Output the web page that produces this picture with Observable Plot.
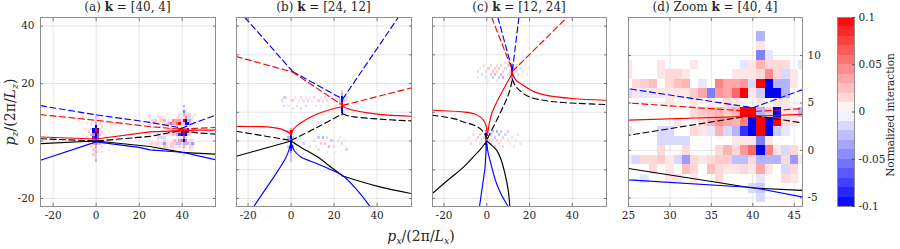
<!DOCTYPE html>
<html><head><meta charset="utf-8">
<script src="https://cdn.jsdelivr.net/npm/d3@7"></script>
<script src="https://cdn.jsdelivr.net/npm/@observablehq/plot@0.6"></script>
<style>
body{margin:0;background:#fff;}
#root{position:relative;width:900px;height:249px;overflow:hidden;font-family:"DejaVu Serif",serif;color:#262626;}
#root svg{position:absolute;top:0;overflow:visible;}
.title{position:absolute;top:0;font-size:12px;line-height:15px;white-space:nowrap;transform:translateX(-50%);}
.lab{position:absolute;font-size:14px;white-space:nowrap;line-height:16px;}
.lab sub{font-size:9.5px;vertical-align:-3px;line-height:0;}
</style></head>
<body><div id="root"></div>
<script>
// ---------- data: k = [40, 4] ----------
const aBlueDash  = [[[-25.9,12.3],[0,9.1],[25,6.5],[40,4.5],[46,6.4],[55.5,9.0]]];
const aRedDash   = [[[-25.9,9.2],[0,7.2],[25,5.0],[40,4.1],[46,4.4],[55.5,4.7]]];
const aRedSolid  = [[[-25.9,1.4],[0,0.7],[25,3.2],[40,3.6],[46,3.8],[55.5,3.8]]];
const aBlackDash = [[[-25.9,0.8],[0,0],[25,1.6],[40,3.7],[46,2.9],[55.5,2.4]]];
const aBlack     = [[[-25.9,-0.9],[0,0],[25,-1.9],[40,-3.95],[46,-4.2],[55.5,-4.6]]];
const aBlue      = [[[-25.9,-6.7],[0,-0.3],[20,-2.2],[25,-3.1],[40,-3.9],[46,-4.9],[55.5,-6.5]]];

// ---------- data: k = [24, 12] ----------
const bBlueDash  = [[[-21.5,43],[0.7,24.2]],[[0.7,24.2],[24,14.6]],[[24,14.6],[49.8,43]]];
const bRedDash   = [[[-25.5,29.4],[0.7,24.0]],[[0.7,24.0],[24,12.4]],[[24,12.4],[56,18.5]]];
const bRedSolid  = [
  [[-25.5,5.1],[-15,5.0],[-10.9,4.9],[-6,4.4],[-3.1,3.7],[-0.8,2.8],[0,2]],
  [[0,2],[0.8,3.8],[2.5,5.2],[4.6,6.3],[8,7.9],[12.4,9.5],[18,10.9],[24,12]],
  [[24,12],[28,10.9],[35.6,9.8],[45,9.0],[56,8.6]]];
const bBlackDash = [
  [[-25.5,3.4],[0,0.2]],
  [[0,0.2],[12.4,4.9],[24,9.5]],
  [[24,9.5],[26,8.9],[29.4,8.4],[43.4,7.5],[56,7.0]]];
const bBlack     = [
  [[-25.5,-5.3],[0,0]],
  [[0,0],[5,-2.4],[12.4,-5.6],[18,-8.8],[24,-12.2]],
  [[24,-12.2],[40.3,-15.8],[56,-18.3]]];
const bBlue      = [
  [[0,-0.5],[-1.6,-4.4],[-3.1,-6.7],[-8,-12.5],[-17.3,-22.8],[-18,-24]],
  [[0,-0.5],[1.5,-3.4],[4.6,-5.6],[12.1,-7.9],[18,-9.8],[24.2,-12.2],[30,-16.5],[36.9,-23],[37.8,-24]]];

// ---------- data: k = [12, 24] ----------
const cRedDash   = [[[2.3,43],[12.1,24.3]],[[12.1,24.3],[37.5,43]]];
const cBlueDash  = [[[5.2,43],[12,24.5]],[[15,43],[12,24.5]]];
const cRedSolid  = [
  [[-25.5,10.7],[-10.9,10.1],[-6,9.5],[-3.1,8.4],[-1.2,6.8],[-0.3,5.2],[0.3,2]],
  [[0.3,2],[1,5.5],[2.3,9.5],[4,12.5],[5.5,14.8],[7.5,17.6],[10,21],[12,23.5]],
  [[12,23.5],[13.5,21.3],[17,19.4],[22,17.2],[27.9,15.9],[40,14.8],[56,14.2]]];
const cBlackDash = [
  [[-25.5,9],[-15,7.7],[-10.9,6.6],[-6,5.5],[-3.1,4.3],[-1,2.5],[0.3,0.8]],
  [[0.3,0.8],[4.6,7.2],[8,12.5],[10.3,16.5],[12,21.5]],
  [[12,21.5],[13.2,19.4],[16,17.2],[20.1,15.3],[28,14],[35.6,13.4],[56,12.7]]];
const cBlack     = [
  [[-25.5,-18.3],[-18,-13.5],[-10.9,-9.1],[-5,-4.5],[-3.1,-3.0],[0,0]],
  [[0,0],[2.5,-1.6],[4.6,-3.2],[6.7,-6.5],[8.5,-11.4],[10,-17],[10.8,-22.8],[11,-24]]];
const cBlue      = [
  [[0,-1],[-0.5,-5],[-0.8,-9.1],[-2,-15.5],[-3.4,-22.8],[-3.6,-24]],
  [[0,-1],[0.6,-4],[1.5,-6.7],[3,-11],[4.6,-14.9],[7,-19],[10,-22.8],[10.8,-24]]];

// ---------- interaction cells [px, pz, value] ----------
const k40Origin = [[0,9,-0.015],[0,8,-0.02],[1,8,0.015],[0,7,0.02],[2,6,0.02],[-2,6,0.015],[-4,6,0.01],[0,6,-0.03],[0,5,-0.1],[3,5,0.015],[-5,4,0.01],[-2,4,0.015],[-1,4,-0.1],[0,4,0.1],[1,4,-0.1],[2,4,0.02],[-3,3,0.02],[-1,3,-0.1],[0,3,0.1],[1,3,-0.1],[3,3,0.015],[-6,2,0.01],[-2,2,-0.02],[-1,2,0.05],[0,2,-0.1],[1,2,0.08],[2,2,-0.02],[4,2,0.01],[-4,1,0.015],[-1,1,-0.08],[0,1,-0.1],[1,1,-0.06],[5,1,0.015],[-3,0,-0.015],[-1,0,0.04],[0,0,-0.08],[1,0,0.05],[-3,-1,0.015],[-1,-1,0.03],[0,-1,-0.05],[1,-1,0.03],[2,-1,0.02],[4,-1,0.01],[-2,-2,0.02],[0,-2,0.04],[3,-2,0.015],[-1,-3,0.02],[0,-3,0.03],[0,-4,-0.03],[1,-4,0.015],[-1,-5,0.02],[0,-5,0.02],[0,-6,-0.02],[0,-7,-0.03],[6,3,0.01],[7,5,0.01],[9,6,0.01],[12,6,0.01],[-8,7,0.01],[-6,8,0.015],[-3,8,0.01],[3,-4,0.015],[6,-3,0.01],[9,-4,0.01]];
const k40Peak = [
[41,12,-0.03],[41,11,0.01],[41,10,-0.05],[42,10,-0.01],
[25,9,0.01],[29,9,0.01],[33,9,0.01],[39,9,-0.01],[40,9,0.01],[41,9,0.03],[42,9,0.015],[43,9,0.015],[44,9,0.015],[46,9,-0.01],
[25,8,0.01],[29,8,0.01],[30,8,0.015],[31,8,0.015],[32,8,0.01],[38,8,0.01],[39,8,0.01],[40,8,0.01],[41,8,0.015],[42,8,0.045],[43,8,0.015],[44,8,-0.015],[45,8,0.01],
[26,7,0.015],[27,7,0.02],[28,7,0.025],[30,7,0.015],[31,7,0.025],[32,7,0.03],[34,7,-0.01],[36,7,0.05],[37,7,0.035],[38,7,0.035],[39,7,0.04],[40,7,-0.015],[41,7,0.1],[42,7,-0.1],[43,7,-0.03],[44,7,-0.03],[45,7,0.01],
[25,6,-0.015],[26,6,0.01],[27,6,-0.01],[28,6,0.01],[29,6,0.01],[30,6,0.01],[31,6,0.01],[32,6,0.01],[33,6,0.02],[34,6,0.035],[35,6,-0.05],[36,6,0.04],[37,6,0.035],[38,6,0.06],[39,6,0.1],[40,6,0.01],[41,6,-0.02],[42,6,-0.1],[43,6,-0.1],[44,6,-0.03],
[30,5,0.01],[33,5,0.01],[35,5,0.01],[37,5,0.015],[38,5,0.01],[41,5,0.01],[43,5,0.01],[44,5,0.01],
[33,4,0.015],[34,4,0.02],[35,4,0.025],[36,4,0.03],[37,4,0.02],[38,4,0.03],[39,4,0.1],[40,4,0.1],[41,4,-0.03],[42,4,0.02],[43,4,-0.1],[44,4,0.01],[45,4,0.01],[46,4,-0.03],
[31,3,0.01],[34,3,0.015],[35,3,0.03],[36,3,0.04],[37,3,0.035],[38,3,0.03],[39,3,0.05],[40,3,-0.1],[41,3,0.1],[42,3,-0.1],[43,3,0.1],[44,3,0.015],[45,3,0.01],
[25,2,-0.01],[29,2,-0.015],[30,2,-0.015],[33,2,0.015],[34,2,0.01],[35,2,-0.01],[36,2,0.03],[37,2,-0.015],[38,2,-0.03],[39,2,-0.08],[40,2,-0.1],[41,2,0.1],[42,2,-0.1],[43,2,-0.02],[44,2,-0.01],
[29,1,-0.015],[30,1,-0.015],[31,1,-0.015],[32,1,-0.015],[38,1,0.01],[39,1,0.01],[40,1,0.01],[41,1,-0.05],[42,1,0.01],
[29,0,0.015],[32,0,0.015],[36,0,0.015],[37,0,0.03],[38,0,0.015],[39,0,0.04],[40,0,0.06],[41,0,-0.1],[42,0,0.05],[43,0,0.01],[44,0,-0.015],[45,0,0.015],
[25,-1,0.01],[26,-1,-0.015],[27,-1,0.015],[28,-1,0.015],[29,-1,0.02],[30,-1,0.01],[31,-1,-0.015],[32,-1,-0.04],[33,-1,0.015],[34,-1,0.01],[35,-1,0.015],[36,-1,0.02],[37,-1,0.02],[38,-1,-0.025],[39,-1,-0.025],[40,-1,0.015],[41,-1,-0.03],[42,-1,-0.03],[43,-1,-0.03],[44,-1,0.015],[45,-1,-0.04],[46,-1,0.01],
[28,-2,0.015],[30,-2,0.01],[32,-2,0.025],[33,-2,0.015],[35,-2,0.025],[36,-2,0.015],[37,-2,0.01],[38,-2,0.01],[39,-2,0.015],[40,-2,0.01],[41,-2,0.035],[42,-2,0.01],[44,-2,-0.015],[45,-2,0.015],
[27,-3,-0.01],[30,-3,0.01],[31,-3,0.01],[33,-3,0.01],[36,-3,0.015],[41,-3,-0.01],[44,-3,0.015],[45,-3,0.01],
[40,-4,-0.015],[41,-4,-0.02],[41,-5,-0.015]];
const k24Cells = [
[0,4,-0.03],[0,3,0.1],[0,2,0.1],[0,1,-0.1],[0,0,-0.06],[0,-1,-0.1],[0,-2,-0.1],[0,-3,-0.08],[0,-4,-0.04],[0,-5,0.03],[0,-6,-0.02],[0,-7,0.03],[-1,1,-0.03],[1,1,-0.02],[-1,-2,-0.02],[1,-2,-0.02],[-1,3,0.02],[1,4,0.015],[-2,0,0.015],[2,-1,0.015],
[6,-1,-0.015],[9,-2,0.01],[11,0,-0.015],[13,1,-0.02],[15,1,-0.03],[17,1,-0.015],[19,0,-0.02],[22,0,0.015],[14,-1,0.02],[16,-1,0.025],[18,-2,0.03],[20,-2,0.02],[24,-1,-0.015],[13,-3,0.015],[26,-3,-0.015],[21,-4,-0.01],[17,-4,0.015],[12,-2,-0.01],[23,1,-0.01],[25,0,0.01],
[24,17,0.02],[24,16,-0.03],[24,15,-0.1],[24,14,-0.1],[24,13,0.1],[24,12,0.1],[24,11,-0.1],[24,10,-0.1],[24,9,0.03],[23,13,0.03],[25,12,0.02],[23,14,-0.02],[25,14,-0.02],[23,11,0.015],[25,10,0.015],
[-4,14,-0.015],[-3,15,-0.02],[-2,15,-0.015],[-3,12,-0.015],[-1,12,-0.01],[0,14,0.015],[1,14,0.02],[1,11,-0.01],[2,15,-0.01],[3,12,-0.015],[4,14,0.01],[5,15,0.015],[5,11,-0.015],[6,14,0.015],[7,15,-0.01],[7,12,-0.015],[8,14,0.02],[9,15,0.01],[10,14,0.01],[11,15,-0.015],[12,12,-0.01],[13,14,-0.015],[14,15,0.01],[15,14,0.01],[16,15,0.015],[17,14,0.015],[18,12,-0.01],[19,15,-0.01],[20,14,-0.01],[21,15,0.01],[21,12,0.015],[22,14,0.01],[26,15,0.015],[26,14,-0.01],[27,13,-0.01]];
const k12Cells = [
[12,27,0.02],[12,26,-0.05],[12,25,-0.1],[12,24,0.1],[12,23,0.1],[12,22,-0.05],[12,21,0.02],[11,24,0.02],[13,25,-0.02],[11,23,-0.015],[13,22,0.015],
[-4,24,-0.015],[-3,25,0.01],[-2,23,-0.015],[-1,26,0.015],[0,24,0.02],[0,22,-0.015],[1,25,0.02],[2,23,-0.02],[2,26,0.015],[3,24,0.025],[3,22,-0.02],[4,25,0.02],[4,23,-0.025],[5,26,0.015],[5,24,0.02],[6,22,-0.02],[6,25,0.025],[7,23,-0.025],[7,26,0.02],[8,24,0.02],[8,22,-0.03],[9,25,-0.015],[9,27,0.015],[10,23,0.015],[10,26,0.02],[14,24,0.015],[14,26,0.015],[15,23,-0.015],[16,25,0.015],[17,24,-0.01],[18,26,0.01],[19,23,0.01],[20,25,-0.01],[-4,22,0.01],[1,21,0.01],[5,21,-0.01],
[0,3,-0.04],[0,2,-0.1],[0,1,0.1],[0,0,-0.06],[0,-1,-0.1],[0,-2,0.06],[0,-3,-0.03],[-1,1,0.02],[1,0,0.02],
[-8,1,0.01],[-7,-1,0.015],[-6,2,-0.01],[-5,0,0.015],[-4,1,0.02],[-3,-1,0.015],[-3,2,-0.015],[-2,0,0.02],[-2,3,-0.01],[2,2,-0.02],[2,-1,0.02],[3,3,-0.025],[3,0,0.015],[4,1,-0.02],[4,-2,0.015],[5,3,-0.03],[5,0,0.02],[6,2,-0.025],[6,-1,0.02],[7,3,-0.02],[7,0,0.015],[8,1,-0.015],[8,-2,0.015],[9,2,-0.015],[10,0,0.015],[10,3,-0.015],[11,-1,0.01],[12,1,-0.01],[13,-2,0.01],[14,0,0.015],[15,2,-0.01],[16,-1,0.01]];

// ---------- ticks ----------
const xTicksMain = [-20, 0, 20, 40];
const yTicksA = [-20, 0, 20, 40];
const yTicksBC = [-20, -10, 0, 10, 20, 30, 40];
const xTicksZoom = [25, 30, 35, 40, 45];
const yTicksZoom = [-5, 0, 5, 10];
const cbTicks = [-0.1, -0.05, 0, 0.05, 0.1];

// ---------- rendering ----------
const RED = "#ff0000", BLUE = "#0000ff", BLACK = "#000000";
const colorScale = {type: "linear", domain: [-0.1, 0, 0.1], range: ["#0000ff", "#ffffff", "#ff0000"], clamp: true, interpolate: "rgb"};
const styleBase = {fontFamily: "'DejaVu Serif',serif", fontSize: "10.5px", color: "#262626", background: "transparent", overflow: "visible"};

function lineMark(segs, color, dashed, curve) {
  const data = segs.flatMap((s, i) => s.map(p => ({x: p[0], y: p[1], s: i})));
  return Plot.line(data, {x: "x", y: "y", z: "s", stroke: color, strokeWidth: 1.15,
    strokeDasharray: dashed ? "6,3.5" : null, curve: curve, clip: true});
}

function panel(cfg) {
  const marks = [
    Plot.gridX(cfg.xTicks, {stroke: "#000", strokeOpacity: 0.1}),
    Plot.gridY(cfg.yTicks, {stroke: "#000", strokeOpacity: 0.1}),
    Plot.rect(cfg.cells, {x1: d => d[0] - 0.5, x2: d => d[0] + 0.5, y1: d => d[1] - 0.5, y2: d => d[1] + 0.5,
      fill: d => d[2], clip: true, shapeRendering: "crispEdges"}),
    ...cfg.lines.map(l => lineMark(...l)),
    Plot.frame({stroke: "#8f8f8f", strokeWidth: 1}),
    Plot.axisX(cfg.xTicks, {anchor: "bottom", tickSize: 0, tickPadding: 5, tickFormat: d => String(d)}),
    Plot.axisX(cfg.xTicks, {anchor: "bottom", tickSize: -3, tickFormat: () => "", stroke: "#777"}),
    Plot.axisX(cfg.xTicks, {anchor: "top", tickSize: -3, tickFormat: () => "", stroke: "#777"}),
    Plot.axisY(cfg.yTicks, {anchor: "left", tickSize: -3, tickFormat: () => "", stroke: "#777"}),
    Plot.axisY(cfg.yTicks, {anchor: "right", tickSize: -3, tickFormat: () => "", stroke: "#777"})
  ];
  if (cfg.yLabels) marks.push(Plot.axisY(cfg.yTicks, {anchor: cfg.yLabels, tickSize: 0, tickPadding: cfg.yLabels === "left" ? 6 : 5, tickFormat: d => String(d)}));
  const svg = Plot.plot({
    width: cfg.width, height: 249,
    marginLeft: cfg.mL, marginRight: cfg.mR, marginTop: 17, marginBottom: 43,
    x: {domain: cfg.xDom, label: null},
    y: {domain: cfg.yDom, label: null},
    color: colorScale,
    style: styleBase,
    marks
  });
  svg.style.left = cfg.left + "px";
  return svg;
}

const root = document.getElementById("root");
const yDomMain = [-22.8, 43];

root.appendChild(panel({left: 0, width: 220, mL: 40, mR: 5, xDom: [-25.9, 55.5], yDom: yDomMain,
  xTicks: xTicksMain, yTicks: yTicksA, yLabels: "left",
  cells: k40Origin.concat(k40Peak),
  lines: [[aBlueDash, BLUE, true, "linear"], [aRedDash, RED, true, "linear"], [aBlackDash, BLACK, true, "linear"],
          [aBlack, BLACK, false, "linear"], [aBlue, BLUE, false, "linear"], [aRedSolid, RED, false, "linear"]]}));

root.appendChild(panel({left: 226, width: 190, mL: 10, mR: 5, xDom: [-25.4, 56], yDom: yDomMain,
  xTicks: xTicksMain, yTicks: yTicksBC, cells: k24Cells,
  lines: [[bBlueDash, BLUE, true, "linear"], [bRedDash, RED, true, "linear"], [bBlackDash, BLACK, true, "catmull-rom"],
          [bBlack, BLACK, false, "catmull-rom"], [bBlue, BLUE, false, "catmull-rom"], [bRedSolid, RED, false, "catmull-rom"]]}));

root.appendChild(panel({left: 422, width: 190, mL: 10, mR: 6, xDom: [-25.4, 56], yDom: yDomMain,
  xTicks: xTicksMain, yTicks: yTicksBC, cells: k12Cells,
  lines: [[cBlueDash, BLUE, true, "linear"], [cRedDash, RED, true, "linear"], [cBlackDash, BLACK, true, "catmull-rom"],
          [cBlack, BLACK, false, "catmull-rom"], [cBlue, BLUE, false, "catmull-rom"], [cRedSolid, RED, false, "catmull-rom"]]}));

root.appendChild(panel({left: 618, width: 215, mL: 10, mR: 31, xDom: [25, 46], yDom: [-5.9, 14],
  xTicks: xTicksZoom, yTicks: yTicksZoom, yLabels: "right",
  cells: k40Origin.concat(k40Peak),
  lines: [[aBlueDash, BLUE, true, "linear"], [aRedDash, RED, true, "linear"], [aBlackDash, BLACK, true, "linear"],
          [aBlack, BLACK, false, "linear"], [aBlue, BLUE, false, "linear"], [aRedSolid, RED, false, "linear"]]}));

// colorbar
const bands = d3.range(20).map(i => -0.1 + i * 0.01);
const cb = Plot.plot({
  width: 70, height: 249, marginLeft: 7, marginRight: 46, marginTop: 17, marginBottom: 43,
  x: {domain: [0, 1], axis: null},
  y: {domain: [-0.1, 0.1], label: null},
  color: colorScale, style: styleBase,
  marks: [
    Plot.rect(bands, {x1: 0, x2: 1, y1: d => d, y2: d => d + 0.01, fill: d => d + 0.005, shapeRendering: "crispEdges"}),
    Plot.frame({stroke: "#8f8f8f"}),
    Plot.axisY(cbTicks, {anchor: "right", tickSize: -3, tickPadding: 7, stroke: "#555", tickFormat: d => String(d)})
  ]
});
cb.style.left = "830px";
root.appendChild(cb);

// titles & labels (HTML text)
function addDiv(cls, html, css) {
  const d = document.createElement("div");
  d.className = cls; d.innerHTML = html; Object.assign(d.style, css); root.appendChild(d);
}
addDiv("title", "(a) <b>k</b> = [40, 4]", {left: "127.5px"});
addDiv("title", "(b) <b>k</b> = [24, 12]", {left: "323.5px"});
addDiv("title", "(c) <b>k</b> = [12, 24]", {left: "519px"});
addDiv("title", "(d) Zoom <b>k</b> = [40, 4]", {left: "715px"});
addDiv("lab", "<i>p</i><sub><i>x</i></sub>/(2π/<i>L</i><sub><i>x</i></sub>)", {left: "421px", top: "228px", transform: "translateX(-50%)"});
addDiv("lab", "<i>p</i><sub><i>z</i></sub>/(2π/<i>L</i><sub><i>z</i></sub>)", {left: "10px", top: "112px", transform: "translate(-50%,-50%) rotate(-90deg)"});
addDiv("lab", "Normalized interaction", {left: "890px", top: "115px", fontSize: "10.5px", transform: "translate(-50%,-50%) rotate(-90deg)"});
</script>
</body></html>
